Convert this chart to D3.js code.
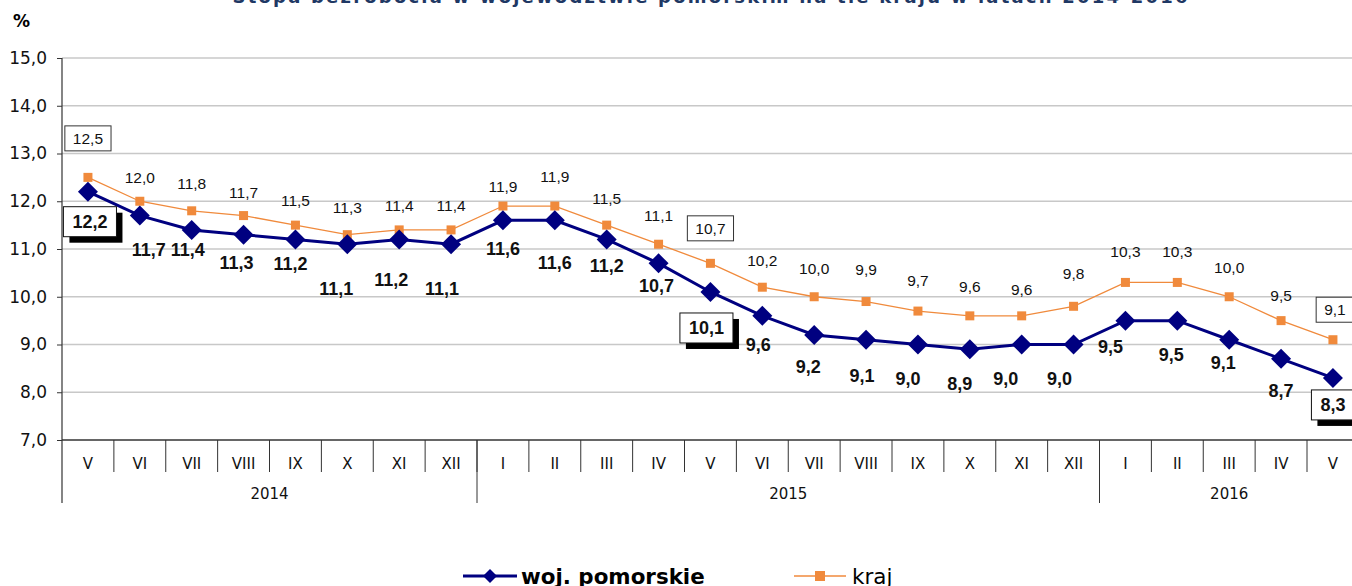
<!DOCTYPE html>
<html>
<head>
<meta charset="utf-8">
<script src="https://d3js.org/d3.v7.min.js"></script>
<style>
  body { margin: 0; background: #fff; }
  svg { display: block; }
</style>
</head>
<body>
<svg id="chart" width="1352" height="586"></svg>
<script>
// --- data ---
var months = ["V","VI","VII","VIII","IX","X","XI","XII",
              "I","II","III","IV","V","VI","VII","VIII","IX","X","XI","XII",
              "I","II","III","IV","V"];
var years = ["2014", "2015", "2016"];
var yearSpan = [8, 12, 5];   // months per year on the axis
var pomorskie = [12.2,11.7,11.4,11.3,11.2,11.1,11.2,11.1,11.6,11.6,11.2,10.7,10.1,
                 9.6,9.2,9.1,9.0,8.9,9.0,9.0,9.5,9.5,9.1,8.7,8.3];
var kraj = [12.5,12.0,11.8,11.7,11.5,11.3,11.4,11.4,11.9,11.9,11.5,11.1,10.7,
            10.2,10.0,9.9,9.7,9.6,9.6,9.8,10.3,10.3,10.0,9.5,9.1];
var yTicks = [7,8,9,10,11,12,13,14,15];

// --- label layout (manual placement, as in the original sheet) ---
var krajDy = [-39,-24,-27,-23,-25,-27,-24,-24,-19,-29,-27,-29,-35,-27,-28,-32,-31,-29,-26,-33,-31,-31,-29,-25,-30];
var pomDx  = [2,9,-4,-7,-5,-11,-8,-9,0,0,0,-2,-4,-4,-6,-4,-10,-10,-16,-14,-15,-6,-6,0,0];
var pomDy  = [30,34,20,28,24,44,40,44,28,42,26,22,36,29,32,36,34,34,34,34,26,34,23,32,27];
var boxed = [0, 12, 24];

var plotLeft = 62, plotTop = 58, plotBottom = 440;
var svg = d3.select("#chart");
var fmt = function(v) { return d3.format(".1f")(v).replace(".", ","); };

var x = d3.scaleBand().domain(d3.range(months.length)).range([plotLeft, plotLeft + 25 * 51.875]);
var y = d3.scaleLinear().domain([7, 15]).range([plotBottom, plotTop]);
var cx = function(i) { return x(i) + x.bandwidth() / 2; };

// title (partly cut off at the top)
svg.append("text")
  .attr("x", 710).attr("y", 3)
  .attr("text-anchor", "middle")
  .attr("font-family", "DejaVu Sans")
  .attr("font-weight", "bold")
  .attr("font-size", 18)
  .attr("fill", "#1f3864")
  .attr("textLength", 955)
  .text("Stopa bezrobocia w województwie pomorskim na tle kraju w latach 2014-2016");

svg.append("text")
  .attr("x", 13).attr("y", 27)
  .attr("font-family", "DejaVu Sans").attr("font-weight", "bold").attr("font-size", 17)
  .text("%");

// grid
svg.append("g").selectAll("line")
  .data(yTicks.filter(function(d) { return d > 7; }))
  .enter().append("line")
  .attr("x1", plotLeft).attr("x2", 1352)
  .attr("y1", function(d) { return y(d); }).attr("y2", function(d) { return y(d); })
  .attr("stroke", "#c8c8c8").attr("stroke-width", 1.5);

// y axis
var yAxis = svg.append("g")
  .attr("transform", "translate(" + plotLeft + ",0)")
  .call(d3.axisLeft(y).tickValues(yTicks).tickSize(5).tickPadding(10).tickFormat(fmt));
yAxis.select(".domain").remove();
yAxis.selectAll(".tick line").attr("stroke", "#333");
yAxis.selectAll("text").attr("font-family", "DejaVu Sans").attr("font-size", 17).attr("fill", "#111");
svg.append("line").attr("x1", plotLeft).attr("x2", plotLeft).attr("y1", plotTop).attr("y2", 503)
  .attr("stroke", "#333").attr("stroke-width", 1.2);

// x axis
svg.append("line").attr("x1", plotLeft).attr("x2", 1352).attr("y1", plotBottom).attr("y2", plotBottom)
  .attr("stroke", "#333").attr("stroke-width", 1.5);
svg.append("g").selectAll("line")
  .data(d3.range(1, months.length))
  .enter().append("line")
  .attr("x1", function(i) { return x(i); }).attr("x2", function(i) { return x(i); })
  .attr("y1", plotBottom).attr("y2", 472)
  .attr("stroke", "#333");
svg.append("g").selectAll("text")
  .data(months)
  .enter().append("text")
  .attr("x", function(d, i) { return cx(i); })
  .attr("y", 469)
  .attr("text-anchor", "middle")
  .attr("font-family", "DejaVu Sans").attr("font-size", 15).attr("fill", "#111")
  .text(function(d) { return d; });

var start = 0;
years.forEach(function(yr, k) {
  var a = x(start), b = x(start) + yearSpan[k] * x.bandwidth();
  if (k > 0) {
    svg.append("line").attr("x1", a).attr("x2", a).attr("y1", plotBottom).attr("y2", 503).attr("stroke", "#333");
  }
  svg.append("text")
    .attr("x", (a + b) / 2).attr("y", 499)
    .attr("text-anchor", "middle")
    .attr("font-family", "DejaVu Sans").attr("font-size", 15).attr("fill", "#111")
    .text(yr);
  start += yearSpan[k];
});

// lines
var lineK = d3.line().x(function(d, i) { return cx(i); }).y(function(d) { return y(d); });
svg.append("path").datum(kraj).attr("d", lineK)
  .attr("fill", "none").attr("stroke", "#f08a3c").attr("stroke-width", 1.3);
svg.append("g").selectAll("rect")
  .data(kraj).enter().append("rect")
  .attr("x", function(d, i) { return cx(i) - 4.5; })
  .attr("y", function(d) { return y(d) - 4.5; })
  .attr("width", 9).attr("height", 9)
  .attr("fill", "#f08a3c");

svg.append("path").datum(pomorskie).attr("d", lineK)
  .attr("fill", "none").attr("stroke", "#000080").attr("stroke-width", 3);
svg.append("g").selectAll("path")
  .data(pomorskie).enter().append("path")
  .attr("d", "M0,-10L10,0L0,10L-10,0Z")
  .attr("transform", function(d, i) { return "translate(" + cx(i) + "," + y(d) + ")"; })
  .attr("fill", "#000080");

// kraj labels
var gk = svg.append("g");
kraj.forEach(function(v, i) {
  var lx = cx(i) + (i === 24 ? 2 : 0), ly = y(v) + krajDy[i];
  var t = gk.append("text")
    .attr("x", lx).attr("y", ly).attr("dy", "0.35em")
    .attr("text-anchor", "middle")
    .attr("font-family", "Liberation Sans").attr("font-size", 15.5).attr("fill", "#111")
    .text(fmt(v));
  if (boxed.indexOf(i) >= 0) {
    var bb = t.node().getBBox();
    gk.insert("rect", function() { return t.node(); })
      .attr("x", bb.x - 8).attr("y", ly - 12.5)
      .attr("width", bb.width + 16).attr("height", 25)
      .attr("fill", "#fff").attr("stroke", "#333").attr("stroke-width", 1);
  }
});

// pomorskie labels
var gp = svg.append("g");
pomorskie.forEach(function(v, i) {
  var lx = cx(i) + pomDx[i], ly = y(v) + pomDy[i];
  var t = gp.append("text")
    .attr("x", lx).attr("y", ly).attr("dy", "0.35em")
    .attr("text-anchor", "middle")
    .attr("font-family", "Liberation Sans").attr("font-weight", "bold").attr("font-size", 18).attr("fill", "#111")
    .text(fmt(v));
  if (boxed.indexOf(i) >= 0) {
    var bb = t.node().getBBox();
    var bx = bb.x - 9, bw = bb.width + 18;
    gp.insert("rect", function() { return t.node(); })
      .attr("x", bx + 6).attr("y", ly - 15 + 6)
      .attr("width", bw).attr("height", 30)
      .attr("fill", "#000");
    gp.insert("rect", function() { return t.node(); })
      .attr("x", bx).attr("y", ly - 15)
      .attr("width", bw).attr("height", 30)
      .attr("fill", "#fff").attr("stroke", "#111").attr("stroke-width", 1);
  }
});

// legend
var lg = svg.append("g");
lg.append("line").attr("x1", 463).attr("x2", 517).attr("y1", 576).attr("y2", 576)
  .attr("stroke", "#000080").attr("stroke-width", 3);
lg.append("path").attr("d", "M0,-7L7,0L0,7L-7,0Z").attr("transform", "translate(490,576)").attr("fill", "#000080");
lg.append("text").attr("x", 521).attr("y", 584)
  .attr("font-family", "DejaVu Sans").attr("font-weight", "bold").attr("font-size", 21.4)
  .text("woj. pomorskie");
lg.append("line").attr("x1", 794).attr("x2", 846).attr("y1", 576).attr("y2", 576)
  .attr("stroke", "#f08a3c").attr("stroke-width", 1.3);
lg.append("rect").attr("x", 815).attr("y", 571).attr("width", 10).attr("height", 10).attr("fill", "#f08a3c");
lg.append("text").attr("x", 852).attr("y", 584)
  .attr("font-family", "DejaVu Sans").attr("font-size", 21.5)
  .text("kraj");
</script>
</body>
</html>
